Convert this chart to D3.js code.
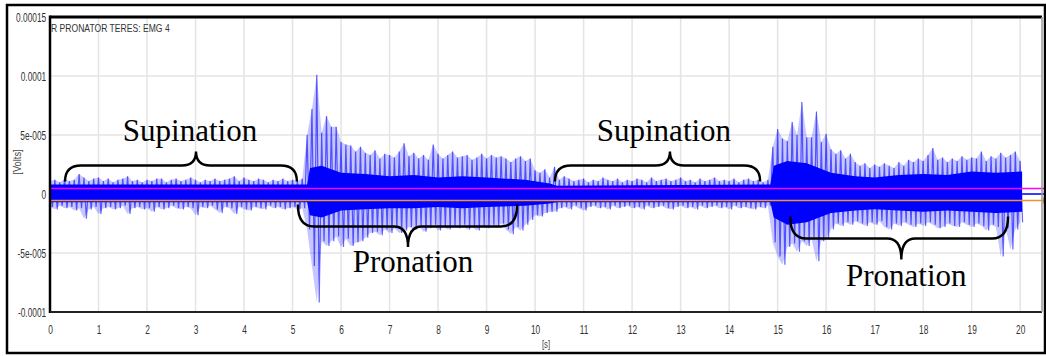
<!DOCTYPE html>
<html>
<head>
<meta charset="utf-8">
<script src="https://cdn.jsdelivr.net/npm/d3@7"></script>
<style>
  body { margin: 0; background: #fff; }
</style>
</head>
<body>
<svg width="1046" height="356"></svg>
<script>
// EMG trace of R pronator teres, values in microvolts.
// one max/min pair read every 0.1 s, starting at t = 0
const binStep = 0.1;
const peakHi = [
  11,12,10,13,11,12,17,14,11,13,
  14,11,13,10,12,13,15,11,12,10,
  12,11,13,13,10,12,13,11,12,14,
  12,10,12,11,13,11,12,13,15,11,
  14,12,11,13,12,10,12,11,13,11,
  12,11,13,50,72,101,52,66,57,57,
  44,42,41,36,40,35,33,37,30,34,
  33,31,36,43,32,35,30,33,29,42,
  34,30,33,36,31,32,33,29,31,34,
  30,33,31,32,30,27,30,32,28,30,
  20,18,21,14,23,12,15,13,11,12,
  13,10,12,11,14,12,11,13,10,12,
  11,13,12,10,14,11,12,13,11,12,
  14,11,12,10,13,11,12,14,11,12,
  11,13,10,12,13,11,12,10,12,40,
  55,47,45,61,50,78,48,48,70,44,
  51,38,34,37,30,34,27,24,26,22,
  25,23,26,24,22,27,24,29,27,30,
  28,33,39,29,31,27,30,28,32,29,
  31,30,36,28,32,30,35,31,33,36,
  28
];
const peakLo = [
  -11,-13,-10,-12,-11,-14,-12,-21,-13,-11,
  -17,-12,-11,-13,-12,-10,-17,-12,-11,-13,
  -12,-15,-11,-13,-12,-10,-12,-13,-11,-12,
  -18,-11,-12,-10,-13,-16,-11,-12,-17,-11,
  -13,-14,-11,-12,-13,-10,-12,-11,-13,-12,
  -11,-13,-12,-30,-61,-92,-40,-44,-40,-36,
  -45,-38,-44,-41,-40,-37,-33,-32,-35,-30,
  -33,-29,-33,-31,-28,-30,-27,-32,-29,-26,
  -31,-28,-30,-27,-29,-26,-30,-28,-31,-27,
  -29,-26,-28,-25,-30,-34,-28,-31,-26,-22,
  -18,-19,-16,-15,-15,-12,-11,-13,-10,-12,
  -14,-11,-10,-12,-11,-13,-10,-12,-11,-10,
  -12,-11,-13,-10,-12,-11,-10,-12,-13,-11,
  -10,-12,-11,-13,-10,-12,-11,-10,-12,-11,
  -13,-10,-12,-11,-12,-13,-11,-12,-10,-41,
  -53,-60,-45,-42,-49,-40,-44,-38,-57,-40,
  -38,-30,-25,-27,-24,-26,-23,-25,-27,-24,
  -26,-23,-28,-30,-25,-27,-24,-26,-28,-25,
  -27,-24,-26,-29,-28,-25,-27,-28,-24,-26,
  -28,-25,-27,-31,-26,-28,-53,-29,-47,-30,
  -24
];

// dense core of the trace, read at breakpoints (s, microvolts)
const coreT  = [0, 5.3, 5.36, 5.6, 6.0, 6.5, 7.0, 7.5, 8.0, 8.5, 9.0, 9.8, 10.3, 10.45, 14.85, 14.92, 15.2, 15.6, 16.1, 16.6, 17.0, 17.5, 18.0, 18.5, 19.0, 19.5, 20.04];
const coreHi = [8, 8, 22, 24, 18, 17, 15, 16, 14, 15, 14, 12, 9, 7, 8, 24, 28, 26, 18, 15, 14, 16, 17, 16, 19, 18, 19];
const coreLo = [-7, -7, -18, -20, -14, -13, -12, -12, -11, -12, -11, -10, -8, -7, -7, -20, -26, -24, -16, -14, -13, -14, -15, -14, -15, -16, -15];

const signalEnd = 20.04;
const levelNames = ["upper", "lower"];
const levelValues = [4.7, -5.5];       // microvolts
const levelColors = ["#ff00ff", "#f0952e"];

const xTicks = d3.range(0, 21);
const yTicks = [-0.0001, -0.00005, 0, 0.00005, 0.0001, 0.00015];
const yTickLabels = ["-0.0001", "-5e-005", "0", "5e-005", "0.0001", "0.00015"];

const phaseNames = ["Supination", "Pronation", "Supination", "Pronation"];
const phaseStart = [0.31, 5.11, 10.41, 15.26];
const phaseEnd   = [5.09, 9.63, 14.64, 19.75];
const phaseTip   = [3.01, 7.38, 12.78, 17.55];

const svg = d3.select("svg");
const W = 1046, H = 356;
const pLeft = 50, pRight = 1042, pTop = 17, pBottom = 312;
const sans = "'Liberation Sans Narrow', 'Liberation Sans', sans-serif";
const serif = "'Liberation Serif', 'Times New Roman', serif";

const x = d3.scaleLinear().domain([0, 20.45]).range([pLeft, pRight]);
const y = d3.scaleLinear().domain([-0.0001, 0.00015]).range([pBottom, pTop]);
const yu = v => y(v * 1e-6);

svg.append("rect").attr("width", W).attr("height", H).attr("fill", "#fff");

// grid
const grid = svg.append("g").attr("stroke", "#e4e4e4").attr("stroke-width", 1.5);
grid.selectAll(".vx").data(xTicks.slice(1)).join("line")
    .attr("x1", d => x(d)).attr("x2", d => x(d))
    .attr("y1", pTop).attr("y2", pBottom);
grid.selectAll(".hy").data(yTicks).join("line")
    .attr("x1", pLeft).attr("x2", pRight)
    .attr("y1", d => y(d)).attr("y2", d => y(d));

// signal: faint envelope, dense core, then the trace between each bin's max and min
const bins = peakHi.map((d, i) => ({t: i * binStep, hi: d, lo: peakLo[i]}));
svg.append("path")
    .datum(bins)
    .attr("fill", "#0000ff")
    .attr("fill-opacity", 0.22)
    .attr("d", d3.area().x(d => x(d.t)).y0(d => yu(d.lo)).y1(d => yu(d.hi)));

const core = coreT.map((t, i) => ({t: t, hi: coreHi[i], lo: coreLo[i]}));
svg.append("path")
    .datum(core)
    .attr("fill", "#0000ff")
    .attr("d", d3.area().x(d => x(d.t)).y0(d => yu(d.lo)).y1(d => yu(d.hi)));

const trace = bins.flatMap(d => [
  {t: d.t, v: d.hi},
  {t: d.t + binStep / 2, v: d.lo}
]);
svg.append("path")
    .datum(trace)
    .attr("fill", "none")
    .attr("stroke", "#0000ff")
    .attr("stroke-opacity", 0.6)
    .attr("stroke-width", 1.2)
    .attr("d", d3.line().x(d => x(d.t)).y(d => yu(d.v)));

// zero line after the recording stops
svg.append("line")
    .attr("x1", x(signalEnd)).attr("x2", 1045)
    .attr("y1", y(0)).attr("y2", y(0))
    .attr("stroke", "#0000ff").attr("stroke-width", 1.5);

// level lines
svg.append("g").selectAll("line").data(levelNames).join("line")
    .attr("x1", pLeft).attr("x2", 1045)
    .attr("y1", (d, i) => yu(levelValues[i]))
    .attr("y2", (d, i) => yu(levelValues[i]))
    .attr("stroke", (d, i) => levelColors[i])
    .attr("stroke-width", 1.5);
svg.append("line")
    .attr("x1", 1044).attr("x2", 1044)
    .attr("y1", yu(levelValues[1]) - 3).attr("y2", yu(levelValues[1]) + 3)
    .attr("stroke", levelColors[1]).attr("stroke-width", 1.5);

// axes
const yAxis = svg.append("g")
    .attr("transform", `translate(${pLeft},0)`)
    .call(d3.axisLeft(y).tickValues(yTicks).tickSize(0).tickPadding(4)
      .tickFormat((d, i) => yTickLabels[i]));
const xAxis = svg.append("g")
    .attr("transform", `translate(0,${pBottom})`)
    .call(d3.axisBottom(x).tickValues(xTicks).tickSize(0).tickPadding(13)
      .tickFormat(d3.format("d")));
[yAxis, xAxis].forEach(a => {
  a.select(".domain").remove();
  a.attr("font-family", null).attr("font-size", null);
  a.selectAll("text")
    .style("font-family", sans)
    .style("font-size", "13px")
    .attr("fill", "#333")
    .attr("transform", "scale(0.64,1)");
});
yAxis.selectAll("text").attr("x", -6);

// plot frame
svg.append("line").attr("x1", pLeft).attr("x2", pRight).attr("y1", pTop).attr("y2", pTop)
    .attr("stroke", "#000").attr("stroke-width", 3);
svg.append("line").attr("x1", pLeft).attr("x2", pLeft).attr("y1", pTop - 1.5).attr("y2", pBottom + 1)
    .attr("stroke", "#000").attr("stroke-width", 2.5);
svg.append("line").attr("x1", pLeft).attr("x2", pRight).attr("y1", pBottom).attr("y2", pBottom)
    .attr("stroke", "#222").attr("stroke-width", 2);
svg.append("line").attr("x1", pRight).attr("x2", pRight).attr("y1", pTop).attr("y2", pBottom)
    .attr("stroke", "#999").attr("stroke-width", 1.5);

// outer frame
svg.append("rect").attr("x", 7).attr("y", 5).attr("width", 1038).attr("height", 348)
    .attr("fill", "none").attr("stroke", "#000").attr("stroke-width", 2.5);

// texts
svg.append("text")
    .attr("transform", `translate(${pLeft + 1},32) scale(0.78,1)`)
    .style("font-family", sans).style("font-size", "11px").attr("fill", "#333")
    .text("R PRONATOR TERES: EMG 4");
svg.append("text")
    .attr("transform", "translate(21,162) rotate(-90) scale(0.85,1)")
    .attr("text-anchor", "middle")
    .style("font-family", sans).style("font-size", "11px").attr("fill", "#444")
    .text("[Volts]");
svg.append("text")
    .attr("transform", `translate(${(pLeft + pRight) / 2},348) scale(0.7,1)`)
    .attr("text-anchor", "middle")
    .style("font-family", sans).style("font-size", "11px").attr("fill", "#444")
    .text("[s]");

// braces with phase labels, levels in microvolts
const braceUp   = {end: 10.6, mid: 24.2, tip: 36, label: 45};
const braceDown = [{end: -8.9, mid: -27.5, tip: -45, label: -66.5},
                   {end: -19, mid: -37.7, tip: -55.5, label: -78}];
function bracePath(x1, x2, xm, yEnd, yMid, yTip) {
  const r = 16, r2 = 14;
  return `M${x1},${yEnd} Q${x1},${yMid} ${x1 + r},${yMid} L${xm - r2},${yMid} ` +
         `Q${xm},${yMid} ${xm},${yTip} Q${xm},${yMid} ${xm + r2},${yMid} ` +
         `L${x2 - r},${yMid} Q${x2},${yMid} ${x2},${yEnd}`;
}
const ann = svg.append("g");
phaseNames.forEach((name, i) => {
  const lv = name === "Supination" ? braceUp : braceDown[i === 1 ? 0 : 1];
  ann.append("path")
      .attr("d", bracePath(x(phaseStart[i]), x(phaseEnd[i]), x(phaseTip[i]),
                           yu(lv.end), yu(lv.mid), yu(lv.tip)))
      .attr("fill", "none").attr("stroke", "#000").attr("stroke-width", 2.4);
  ann.append("text")
      .attr("x", x(phaseTip[i]) + (name === "Supination" ? -6 : 5))
      .attr("y", yu(lv.label))
      .attr("text-anchor", "middle")
      .style("font-family", serif)
      .style("font-size", "31px")
      .attr("fill", "#000")
      .text(name);
});
</script>
</body>
</html>
